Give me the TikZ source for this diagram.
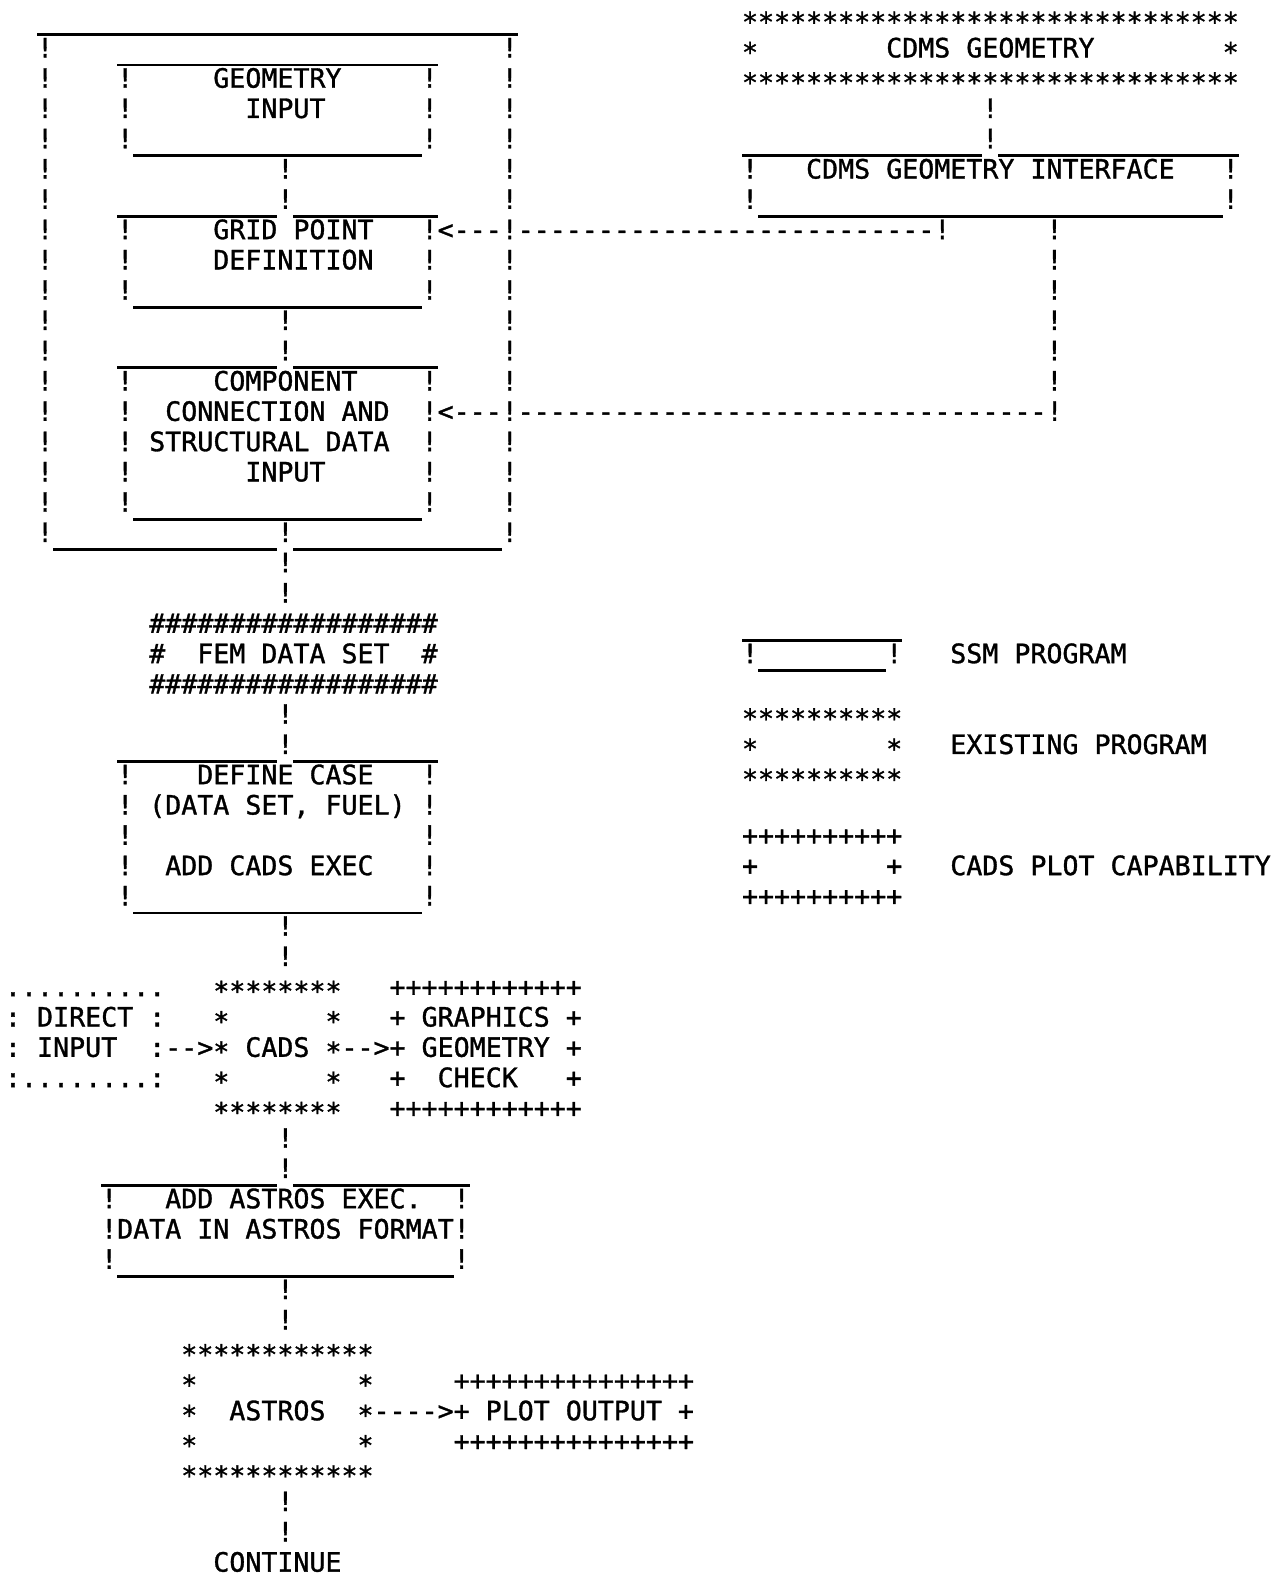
\documentclass[tikz,border=0pt]{standalone}
\usepackage{fontspec}
\newfontfamily\monofam{DejaVu Sans Mono}[FakeBold=1.2]
\newcommand\repch[2]{\foreach\repi in {1,...,#1}{#2}}
\newcommand\stch{\raisebox{-0.16em}{*}}
\newcommand\dsh{-\kern0pt }
\newcommand\rowtext[3]{\node[txt] (r#1c#2) at ({13+15.95*(#2)-7.975},{17.5+30.15*(#1)+9.5}) {#3};}
\newcommand\rowline[3]{\draw[edge] ({13+15.95*(#2)-7.975},{17.5+30.15*(#1)+17}) -- ({13+15.95*(#3)+7.975},{17.5+30.15*(#1)+17});}
\begin{document}
\begin{tikzpicture}[x=0.5pt,y=-0.5pt,
  txt/.style={font=\monofam\fontsize{13.25pt}{14pt}\selectfont, anchor=base west, inner sep=0pt, outer sep=0pt},
  edge/.style={line width=1.3pt}]
\fill[white] (0,0) rectangle (1277,1568);
\useasboundingbox (0,0) rectangle (1277,1568);
% row 0
\rowline{0}{2}{31}
\rowtext{0}{46}{\repch{31}{\stch}}
% row 1
\rowtext{1}{2}{!}\rowline{1}{7}{26}\rowtext{1}{31}{!}
\rowtext{1}{46}{\stch}\rowtext{1}{55}{CDMS GEOMETRY}\rowtext{1}{76}{\stch}
% row 2
\rowtext{2}{2}{!}\rowtext{2}{7}{!}\rowtext{2}{13}{GEOMETRY}\rowtext{2}{26}{!}\rowtext{2}{31}{!}
\rowtext{2}{46}{\repch{31}{\stch}}
% row 3
\rowtext{3}{2}{!}\rowtext{3}{7}{!}\rowtext{3}{15}{INPUT}\rowtext{3}{26}{!}\rowtext{3}{31}{!}
\rowtext{3}{61}{!}
% row 4
\rowtext{4}{2}{!}\rowtext{4}{7}{!}\rowline{4}{8}{25}\rowtext{4}{26}{!}\rowtext{4}{31}{!}
\rowline{4}{46}{60}\rowtext{4}{61}{!}\rowline{4}{62}{76}
% row 5
\rowtext{5}{2}{!}\rowtext{5}{17}{!}\rowtext{5}{31}{!}
\rowtext{5}{46}{!}\rowtext{5}{50}{CDMS GEOMETRY INTERFACE}\rowtext{5}{76}{!}
% row 6
\rowtext{6}{2}{!}\rowline{6}{7}{16}\rowtext{6}{17}{!}\rowline{6}{18}{26}\rowtext{6}{31}{!}
\rowtext{6}{46}{!}\rowline{6}{47}{75}\rowtext{6}{76}{!}
% row 7
\rowtext{7}{2}{!}\rowtext{7}{7}{!}\rowtext{7}{13}{GRID POINT}
\rowtext{7}{26}{!<\dsh\dsh\dsh!\repch{26}{\dsh}!}
\rowtext{7}{65}{!}
% row 8
\rowtext{8}{2}{!}\rowtext{8}{7}{!}\rowtext{8}{13}{DEFINITION}\rowtext{8}{26}{!}\rowtext{8}{31}{!}\rowtext{8}{65}{!}
% row 9
\rowtext{9}{2}{!}\rowtext{9}{7}{!}\rowline{9}{8}{25}\rowtext{9}{26}{!}\rowtext{9}{31}{!}\rowtext{9}{65}{!}
% row 10
\rowtext{10}{2}{!}\rowtext{10}{17}{!}\rowtext{10}{31}{!}\rowtext{10}{65}{!}
% row 11
\rowtext{11}{2}{!}\rowline{11}{7}{16}\rowtext{11}{17}{!}\rowline{11}{18}{26}\rowtext{11}{31}{!}\rowtext{11}{65}{!}
% row 12
\rowtext{12}{2}{!}\rowtext{12}{7}{!}\rowtext{12}{13}{COMPONENT}\rowtext{12}{26}{!}\rowtext{12}{31}{!}\rowtext{12}{65}{!}
% row 13
\rowtext{13}{2}{!}\rowtext{13}{7}{!}\rowtext{13}{10}{CONNECTION AND}
\rowtext{13}{26}{!<\dsh\dsh\dsh!\repch{33}{\dsh}!}
% row 14
\rowtext{14}{2}{!}\rowtext{14}{7}{!}\rowtext{14}{9}{STRUCTURAL DATA}\rowtext{14}{26}{!}\rowtext{14}{31}{!}
% row 15
\rowtext{15}{2}{!}\rowtext{15}{7}{!}\rowtext{15}{15}{INPUT}\rowtext{15}{26}{!}\rowtext{15}{31}{!}
% row 16
\rowtext{16}{2}{!}\rowtext{16}{7}{!}\rowline{16}{8}{25}\rowtext{16}{26}{!}\rowtext{16}{31}{!}
% row 17
\rowtext{17}{2}{!}\rowline{17}{3}{16}\rowtext{17}{17}{!}\rowline{17}{18}{30}\rowtext{17}{31}{!}
% rows 18-19
\rowtext{18}{17}{!}
\rowtext{19}{17}{!}
% row 20
\rowtext{20}{9}{\repch{18}{\#}}
\rowline{20}{46}{55}
% row 21
\rowtext{21}{9}{\#}\rowtext{21}{12}{FEM DATA SET}\rowtext{21}{26}{\#}
\rowtext{21}{46}{!}\rowline{21}{47}{54}\rowtext{21}{55}{!}\rowtext{21}{59}{SSM PROGRAM}
% row 22
\rowtext{22}{9}{\repch{18}{\#}}
% row 23
\rowtext{23}{17}{!}
\rowtext{23}{46}{\repch{10}{\stch}}
% row 24
\rowline{24}{7}{16}\rowtext{24}{17}{!}\rowline{24}{18}{26}
\rowtext{24}{46}{\stch}\rowtext{24}{55}{\stch}\rowtext{24}{59}{EXISTING PROGRAM}
% row 25
\rowtext{25}{7}{!}\rowtext{25}{12}{DEFINE CASE}\rowtext{25}{26}{!}
\rowtext{25}{46}{\repch{10}{\stch}}
% row 26
\rowtext{26}{7}{!}\rowtext{26}{9}{(DATA SET, FUEL)}\rowtext{26}{26}{!}
% row 27
\rowtext{27}{7}{!}\rowtext{27}{26}{!}
\rowtext{27}{46}{\repch{10}{+}}
% row 28
\rowtext{28}{7}{!}\rowtext{28}{10}{ADD CADS EXEC}\rowtext{28}{26}{!}
\rowtext{28}{46}{+}\rowtext{28}{55}{+}\rowtext{28}{59}{CADS PLOT CAPABILITY}
% row 29
\rowtext{29}{7}{!}\rowline{29}{8}{25}\rowtext{29}{26}{!}
\rowtext{29}{46}{\repch{10}{+}}
% rows 30-31
\rowtext{30}{17}{!}
\rowtext{31}{17}{!}
% row 32
\rowtext{32}{0}{\repch{10}{.}}
\rowtext{32}{13}{\repch{8}{\stch}}
\rowtext{32}{24}{\repch{12}{+}}
% row 33
\rowtext{33}{0}{:}\rowtext{33}{2}{DIRECT}\rowtext{33}{9}{:}
\rowtext{33}{13}{\stch}\rowtext{33}{20}{\stch}
\rowtext{33}{24}{+}\rowtext{33}{26}{GRAPHICS}\rowtext{33}{35}{+}
% row 34
\rowtext{34}{0}{:}\rowtext{34}{2}{INPUT}\rowtext{34}{9}{:\dsh\dsh>\stch}
\rowtext{34}{15}{CADS}\rowtext{34}{20}{\stch\dsh\dsh>+}
\rowtext{34}{26}{GEOMETRY}\rowtext{34}{35}{+}
% row 35
\rowtext{35}{0}{:\repch{8}{.}:}
\rowtext{35}{13}{\stch}\rowtext{35}{20}{\stch}
\rowtext{35}{24}{+}\rowtext{35}{27}{CHECK}\rowtext{35}{35}{+}
% row 36
\rowtext{36}{13}{\repch{8}{\stch}}
\rowtext{36}{24}{\repch{12}{+}}
% row 37
\rowtext{37}{17}{!}
% row 38
\rowline{38}{6}{16}\rowtext{38}{17}{!}\rowline{38}{18}{28}
% row 39
\rowtext{39}{6}{!}\rowtext{39}{10}{ADD ASTROS EXEC.}\rowtext{39}{28}{!}
% row 40
\rowtext{40}{6}{!DATA IN ASTROS FORMAT!}
% row 41
\rowtext{41}{6}{!}\rowline{41}{7}{27}\rowtext{41}{28}{!}
% rows 42-43
\rowtext{42}{17}{!}
\rowtext{43}{17}{!}
% row 44
\rowtext{44}{11}{\repch{12}{\stch}}
% row 45
\rowtext{45}{11}{\stch}\rowtext{45}{22}{\stch}
\rowtext{45}{28}{\repch{15}{+}}
% row 46
\rowtext{46}{11}{\stch}\rowtext{46}{14}{ASTROS}
\rowtext{46}{22}{\stch\repch{4}{\dsh}>+}
\rowtext{46}{30}{PLOT OUTPUT}\rowtext{46}{42}{+}
% row 47
\rowtext{47}{11}{\stch}\rowtext{47}{22}{\stch}
\rowtext{47}{28}{\repch{15}{+}}
% row 48
\rowtext{48}{11}{\repch{12}{\stch}}
% rows 49-51
\rowtext{49}{17}{!}
\rowtext{50}{17}{!}
\rowtext{51}{13}{CONTINUE}
\end{tikzpicture}
\end{document}
